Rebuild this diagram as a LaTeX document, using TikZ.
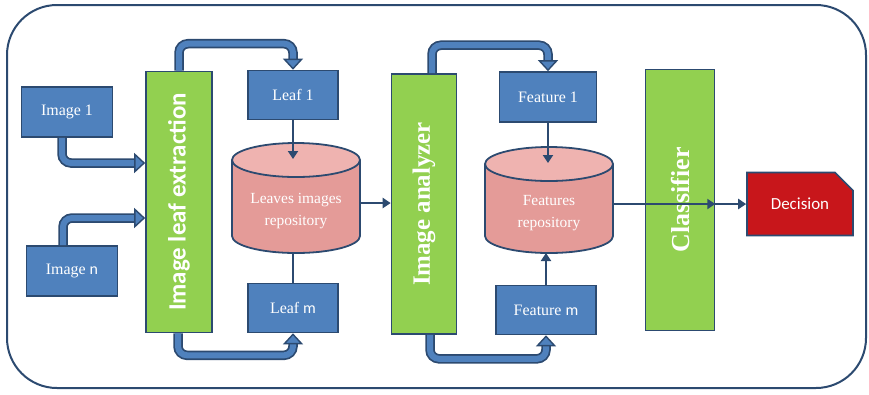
\documentclass[tikz,border=0pt]{standalone}
\usepackage{fontspec}
\setmainfont{Liberation Serif}
\newfontfamily\calib{Carlito}
\usepackage{xcolor}
\usetikzlibrary{arrows.meta}
\usetikzlibrary{shapes.misc}
\usetikzlibrary{calc}

\definecolor{boxblue}{HTML}{4F81BD}
\definecolor{edgeblue}{HTML}{2C4A70}
\definecolor{barGreen}{HTML}{92D050}
\definecolor{repoPink}{HTML}{E49B98}
\definecolor{repoTop}{HTML}{EFB3B0}
\definecolor{decRed}{HTML}{C8161B}

\tikzset{
  item/.style={draw=edgeblue, line width=1.6bp, fill=boxblue, text=white,
    minimum width=91bp, minimum height=50bp, inner sep=0pt,
    font=\fontsize{16}{18}\selectfont},
  bar/.style={draw=edgeblue, line width=1.6bp, fill=barGreen, text=white,
    rotate=90, minimum width=261bp, minimum height=66bp, inner sep=0pt},
  repo/.style={minimum width=128bp, minimum height=110bp, inner sep=0pt, outer sep=0pt},
  repoline/.style={draw=edgeblue, line width=1.8bp},
  repotext/.style={text=white, align=center, inner sep=0pt,
    font=\fontsize{15.5}{22}\selectfont},
  pipeedge/.style={draw=edgeblue, line width=9.5bp, rounded corners=9bp,
    shorten >=9bp},
  pipefill/.style={draw=boxblue, line width=6bp, rounded corners=9bp,
    -{Triangle[width=20bp,length=11bp,color=edgeblue,fill=boxblue,line width=1.4bp]}},
  link/.style={draw=edgeblue, line width=2.6bp,
    -{Triangle[width=10bp,length=8bp]}},
}
\newcommand{\pipeline}[1]{%
  \draw[pipeedge] #1;
  \draw[pipefill] #1;}
% cylinder drawn round a named box
\newcommand{\repodraw}[1]{%
  \fill[repoPink] ([yshift=-17bp]#1.north west) -- ([yshift=17bp]#1.south west)
    arc[start angle=180, end angle=360, x radius=64bp, y radius=17bp]
    -- ([yshift=-17bp]#1.north east) -- cycle;
  \draw[repoline] ([yshift=-17bp]#1.north west) -- ([yshift=17bp]#1.south west)
    arc[start angle=180, end angle=360, x radius=64bp, y radius=17bp]
    -- ([yshift=-17bp]#1.north east);
  \filldraw[repoline, fill=repoTop] ([yshift=-17bp]#1.north) ellipse [x radius=64bp, y radius=17bp];}

\begin{document}
\begin{tikzpicture}[x=1bp,y=-1bp]
  \useasboundingbox (0,0) rectangle (869,394);
  % Frame
  \draw[edgeblue, line width=2bp, rounded corners=50bp] (7,5) rectangle (866,388);

  % Input images
  \node[item] (imgone) at (67,112) {Image 1};
  \node[item] (imgn) at (72,271) {Image {\calib n}};

  % Processing bars
  \node[bar, font=\calib\bfseries\fontsize{25}{28}\selectfont] (extr) at (179,202) {Image leaf extraction};
  \node[bar, font=\bfseries\fontsize{25}{28}\selectfont, minimum width=260bp, minimum height=65bp] (ana) at (424,204) {Image analyzer};
  \node[bar, font=\bfseries\fontsize{26}{28}\selectfont, minimum height=69bp] (cls) at (680,200) {Classifier};

  % Leaves
  \node[item, minimum width=90bp, minimum height=49bp] (leafone) at (293,95) {Leaf 1};
  \node[item, minimum width=90bp, minimum height=49bp] (leafm) at (293,308) {Leaf {\calib m}};
  \node[repo] (repoleaf) at (296,198) {};
  \repodraw{repoleaf}
  \node[repotext] (leaftext) at ([yshift=-13bp]repoleaf.center) {Leaves images\\repository};

  % Features
  \node[item, minimum width=97bp] (featone) at (548,97) {Feature 1};
  \node[item, minimum width=100bp, minimum height=49bp] (featm) at (546,310) {Feature {\calib m}};
  \node[repo, minimum height=106bp] (featrepo) at (549,200) {};
  \repodraw{featrepo}
  \node[repotext] (feattext) at ([yshift=-13bp]featrepo.center) {Features\\repository};

  % Output
  \node[chamfered rectangle, chamfered rectangle corners=north east,
    chamfered rectangle xsep=16bp, chamfered rectangle ysep=12bp,
    draw=edgeblue, line width=1.6bp, fill=decRed, text=white, inner sep=0pt,
    minimum width=106bp, minimum height=63bp,
    font=\calib\fontsize{17}{20}\selectfont] (dec) at (800,204) {Decision};

  % Block arrows
  \pipeline{([xshift=-5bp]imgone.south) |- ([yshift=39bp]extr.north)}
  \pipeline{([xshift=-9bp]imgn.north) |- ([yshift=-16bp]extr.north)}
  \pipeline{(extr.east) -- ++(0,-27) -| (leafone.north)}
  \pipeline{([xshift=-1bp]extr.west) -- ++(0,22) -| (leafm.south)}
  \pipeline{([xshift=8bp]ana.east) -- ++(0,-28) -| (featone.north)}
  \pipeline{([xshift=6bp]ana.west) -- ++(0,24) -| (featm.south)}

  % Thin arrows
  \coordinate (leafin) at ([yshift=-16bp]repoleaf.north);
  \coordinate (featin) at ([yshift=-16bp]featrepo.north);
  \draw[link] (leafone.south) -- (leafone.south |- leafin);
  \draw[edgeblue, line width=2.6bp] (leafm.north) -- (leafm.north |- repoleaf.south);
  \draw[link] (featone.south) -- (featone.south |- featin);
  \draw[link] (featm.north) -- (featm.north |- featrepo.south);
  \draw[link] ([yshift=-5bp]repoleaf.east) -- ([yshift=-5bp]repoleaf.east -| ana.north);
  \draw[link] ([yshift=-4bp]featrepo.east) -- ([yshift=-4bp]featrepo.east -| cls.south);
  \draw[link] (cls.south |- dec.west) -- (dec.west);
\end{tikzpicture}
\end{document}
